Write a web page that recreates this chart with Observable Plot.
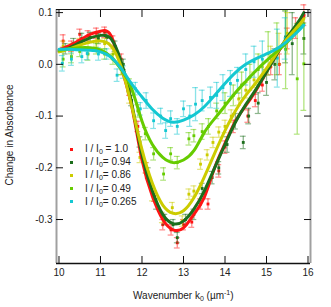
<!DOCTYPE html>
<html>
<head>
<meta charset="utf-8">
<script src="https://cdn.jsdelivr.net/npm/d3@7"></script>
<script src="https://cdn.jsdelivr.net/npm/@observablehq/plot@0.6"></script>
<style>
  html, body { margin: 0; padding: 0; background: #fff; }
  #wrap { position: relative; width: 331px; height: 307px; font-family: "Liberation Sans", Arial, sans-serif; color: #222; }
  #wrap svg { position: absolute; left: 0; top: 0; }
  .lab { position: absolute; font-size: 10px; white-space: nowrap; line-height: 1; }
  .leg { position: absolute; left: 70px; font-size: 10px; line-height: 1; }
  .leg .row { position: absolute; left: 0; white-space: nowrap; }
  .leg .sq { position: absolute; left: 0; top: 3.5px; width: 3px; height: 3px; }
  .leg .tx { position: absolute; left: 15px; top: 0; }
  sub { font-size: 7px; vertical-align: -2px; line-height: 0; }
  sup { font-size: 7px; vertical-align: 4px; line-height: 0; }
</style>
</head>
<body>
<div id="wrap"></div>
<script>
// ---- data ----
const seriesNames = ["1.0", "0.94", "0.86", "0.49", "0.265"];
const seriesColors = ["#ff1414", "#1c6e1c", "#cccc00", "#66cc00", "#14c8d2"];

const fitX = [10, 10.25, 10.5, 10.75, 11, 11.25, 11.5, 11.75, 12, 12.25, 12.5, 12.75, 13, 13.25, 13.5, 13.75, 14, 14.25, 14.5, 14.75, 15, 15.25, 15.5, 15.75, 15.9];
const fitRed    = [0.028,0.036,0.047,0.058,0.064,0.056,-0.005,-0.08,-0.185,-0.255,-0.30,-0.32,-0.316,-0.29,-0.257,-0.2,-0.153,-0.11,-0.08,-0.05,-0.015,0.02,0.05,0.075,0.095];
const fitGreen  = [0.025,0.032,0.042,0.051,0.056,0.05,0.005,-0.075,-0.175,-0.245,-0.29,-0.308,-0.303,-0.28,-0.245,-0.2,-0.155,-0.112,-0.078,-0.048,-0.015,0.02,0.052,0.08,0.1];
const fitYellow = [0.024,0.03,0.037,0.043,0.045,0.036,-0.005,-0.08,-0.165,-0.23,-0.272,-0.288,-0.283,-0.258,-0.218,-0.172,-0.128,-0.09,-0.06,-0.035,-0.008,0.022,0.05,0.073,0.088];
const fitLime   = [0.027,0.03,0.032,0.032,0.028,0.015,-0.01,-0.047,-0.11,-0.155,-0.18,-0.19,-0.185,-0.167,-0.132,-0.105,-0.08,-0.055,-0.033,-0.012,0.007,0.025,0.043,0.065,0.078];
const fitCyan   = [0.029,0.029,0.028,0.027,0.024,0.014,-0.008,-0.038,-0.063,-0.087,-0.104,-0.112,-0.108,-0.098,-0.082,-0.06,-0.037,-0.016,0.0,0.011,0.02,0.03,0.045,0.063,0.076];

// measured points: [wavenumber, change, error]
const ptsRed = [[10.1,0.045,0.012],[10.3,0.035,0.01],[10.5,0.058,0.01],[10.7,0.055,0.01],[10.9,0.06,0.01],[11.1,0.062,0.01],[11.3,0.045,0.01],[11.5,0.01,0.01],[11.7,-0.05,0.01],[11.9,-0.12,0.01],[12.1,-0.2,0.01],[12.3,-0.255,0.01],[12.5,-0.31,0.01],[12.7,-0.32,0.01],[12.85,-0.345,0.01],[13.0,-0.31,0.01],[13.2,-0.305,0.01],[13.41,-0.27,0.01],[13.59,-0.27,0.01],[13.85,-0.206,0.012],[14.0,-0.16,0.012],[14.2,-0.12,0.012],[14.55,-0.1,0.012],[14.73,-0.07,0.012],[14.9,-0.04,0.012],[15.1,-0.005,0.015],[15.31,0.0,0.02],[15.5,0.05,0.02],[15.7,0.07,0.02],[15.9,0.095,0.02]];
const ptsGreen = [[10.15,0.03,0.01],[10.35,0.04,0.01],[10.55,0.05,0.01],[10.75,0.052,0.01],[10.95,0.05,0.01],[11.15,0.052,0.01],[11.35,0.035,0.01],[11.55,0.0,0.01],[11.75,-0.07,0.01],[11.95,-0.15,0.01],[12.15,-0.21,0.01],[12.35,-0.27,0.01],[12.55,-0.3,0.01],[12.75,-0.31,0.01],[12.85,-0.335,0.01],[13.05,-0.3,0.01],[13.25,-0.29,0.01],[13.45,-0.24,0.01],[13.69,-0.219,0.012],[13.85,-0.2,0.012],[14.05,-0.155,0.015],[14.25,-0.11,0.015],[14.44,-0.151,0.012],[14.57,-0.1,0.015],[14.8,-0.075,0.02],[15.0,-0.035,0.025],[15.2,0.0,0.03],[15.46,0.053,0.05],[15.62,0.04,0.06],[15.9,0.05,0.03]];
const ptsYellow = [[10.1,0.035,0.01],[10.3,0.03,0.01],[10.5,0.04,0.01],[10.7,0.042,0.01],[10.9,0.045,0.01],[11.1,0.04,0.01],[11.3,0.02,0.01],[11.5,-0.01,0.01],[11.7,-0.065,0.01],[11.95,-0.18,0.01],[12.1,-0.2,0.01],[12.25,-0.254,0.01],[12.49,-0.296,0.01],[12.73,-0.277,0.01],[12.97,-0.303,0.01],[13.13,-0.251,0.01],[13.25,-0.245,0.01],[13.41,-0.193,0.01],[13.57,-0.175,0.01],[13.71,-0.151,0.01],[13.85,-0.131,0.01],[14.0,-0.12,0.012],[14.15,-0.1,0.012],[14.33,-0.067,0.012],[14.5,-0.05,0.015],[14.7,-0.03,0.015],[14.9,-0.005,0.02],[15.1,0.015,0.02],[15.3,0.03,0.03],[15.5,0.06,0.04]];
const ptsLime = [[10.1,0.01,0.015],[10.3,0.015,0.012],[10.5,0.025,0.01],[10.7,0.02,0.012],[10.9,0.03,0.01],[11.1,0.02,0.01],[11.3,0.01,0.01],[11.5,-0.01,0.01],[11.7,-0.04,0.012],[11.9,-0.09,0.012],[12.08,-0.134,0.012],[12.28,-0.173,0.012],[12.52,-0.212,0.012],[12.69,-0.173,0.012],[12.85,-0.19,0.012],[13.13,-0.144,0.012],[13.25,-0.138,0.012],[13.45,-0.13,0.015],[13.6,-0.12,0.015],[13.8,-0.09,0.015],[14.0,-0.075,0.02],[14.2,-0.06,0.02],[14.4,-0.04,0.025],[14.6,-0.025,0.025],[14.8,-0.01,0.03],[15.04,0.021,0.042],[15.25,0.03,0.05],[15.46,0.029,0.076],[15.74,-0.028,0.107],[15.9,0.001,0.09]];
const ptsCyan = [[10.08,0.002,0.015],[10.3,0.01,0.012],[10.55,0.015,0.012],[10.68,0.021,0.012],[10.95,0.02,0.012],[11.15,0.02,0.01],[11.4,-0.021,0.012],[11.55,-0.015,0.012],[11.84,-0.047,0.012],[11.96,-0.086,0.012],[12.1,-0.07,0.015],[12.28,-0.109,0.015],[12.45,-0.1,0.015],[12.57,-0.128,0.015],[12.69,-0.105,0.015],[12.85,-0.12,0.015],[13.0,-0.086,0.015],[13.15,-0.1,0.02],[13.29,-0.077,0.032],[13.45,-0.07,0.02],[13.65,-0.064,0.02],[13.8,-0.06,0.025],[13.95,-0.045,0.025],[14.13,-0.037,0.025],[14.3,-0.031,0.025],[14.5,-0.01,0.03],[14.7,0.005,0.03],[14.9,0.01,0.035],[15.26,0.012,0.056],[15.45,0.05,0.04]];

const xTicks = [10, 11, 12, 13, 14, 15, 16];
const yTicks = [0.1, 0.0, -0.1, -0.2, -0.3];
const yTickLabels = ["0.1", "0.0", "-0.1", "-0.2", "-0.3"];

// ---- build tables ----
const fits = [fitRed, fitGreen, fitYellow, fitLime, fitCyan];
const pts = [ptsRed, ptsGreen, ptsYellow, ptsLime, ptsCyan];
const fitRows = [];
fits.forEach((arr, s) => arr.forEach((v, i) => fitRows.push({s, x: fitX[i], y: v})));
const ptRows = [];
pts.forEach((arr, s) => arr.forEach(([x, y, e]) => ptRows.push({s, x, y, e})));

const capHalf = 0.07;
const marks = [];
for (let s = 0; s < 5; s++) {
  const data = ptRows.filter(d => d.s === s);
  const c = seriesColors[s];
  marks.push(Plot.ruleX(data, {x: "x", y1: d => d.y - d.e, y2: d => d.y + d.e, stroke: c, strokeOpacity: 0.5, strokeWidth: 1.3}));
  marks.push(Plot.ruleY(data, {y: d => d.y + d.e, x1: d => d.x - capHalf, x2: d => d.x + capHalf, stroke: c, strokeOpacity: 0.5, strokeWidth: 1.2}));
  marks.push(Plot.ruleY(data, {y: d => d.y - d.e, x1: d => d.x - capHalf, x2: d => d.x + capHalf, stroke: c, strokeOpacity: 0.5, strokeWidth: 1.2}));
  marks.push(Plot.dot(data, {x: "x", y: "y", symbol: "square", r: 1.6, fill: c, stroke: "none"}));
}
for (let s = 0; s < 5; s++) {
  marks.push(Plot.line(fitRows.filter(d => d.s === s), {x: "x", y: "y", stroke: seriesColors[s], strokeWidth: 3, curve: "natural"}));
}

const chart = Plot.plot({
  width: 331,
  height: 307,
  marginLeft: 56,
  marginRight: 21,
  marginTop: 9,
  marginBottom: 44,
  style: {fontFamily: '"Liberation Sans", Arial, sans-serif', fontSize: "10px", background: "white", color: "#222"},
  x: {domain: [9.94, 16.06]},
  y: {domain: [-0.385, 0.106]},
  marks: [
    ...marks,
    // frame
    Plot.ruleX([9.94], {stroke: "#a0a0a0", strokeWidth: 2}),
    Plot.ruleX([16.06], {stroke: "#a0a0a0", strokeWidth: 2}),
    Plot.ruleY([0.106], {stroke: "#111", strokeWidth: 1.2}),
    Plot.ruleY([-0.385], {stroke: "#111", strokeWidth: 1.5}),
    // ticks (inside)
    Plot.axisX({anchor: "bottom", ticks: xTicks, tickSize: -7, text: null, label: null, stroke: "#111"}),
    Plot.axisX({anchor: "top", ticks: xTicks, tickSize: -7, text: null, label: null, stroke: "#111"}),
    Plot.axisY({anchor: "left", ticks: yTicks, tickSize: -7, text: null, label: null, stroke: "#111"}),
    Plot.axisY({anchor: "right", ticks: yTicks, tickSize: -7, text: null, label: null, stroke: "#111"}),
    // tick labels
    Plot.axisX({anchor: "bottom", ticks: xTicks, tickSize: 0, tickPadding: 5, label: null, tickFormat: d => String(d), fill: "#222", fontSize: 10}),
    Plot.axisY({anchor: "left", ticks: yTicks, tickSize: 0, tickPadding: 4, label: null, tickFormat: (d, i) => yTickLabels[i], fill: "#222", fontSize: 10})
  ]
});

const wrap = document.getElementById("wrap");
wrap.appendChild(chart);

// axis titles
const xl = document.createElement("div");
xl.className = "lab";
xl.innerHTML = 'Wavenumber k<sub>0</sub> (\u00b5m<sup>-1</sup>)';
xl.style.left = "133px"; xl.style.top = "291px";
wrap.appendChild(xl);

const yl = document.createElement("div");
yl.className = "lab";
yl.textContent = "Change in Absorbance";
yl.style.left = "10px"; yl.style.top = "135px";
yl.style.transform = "translate(-50%, -50%) rotate(-90deg)";
wrap.appendChild(yl);

// legend
const leg = document.createElement("div");
leg.className = "leg";
leg.style.top = "144px";
seriesNames.forEach((n, i) => {
  const row = document.createElement("div");
  row.className = "row";
  row.style.top = (i * 13.2) + "px";
  const eq = i === 0 ? " = " : "= ";
  row.innerHTML = `<span class="sq" style="background:${seriesColors[i]}"></span><span class="tx">I / I<sub>0</sub>${eq}${n}</span>`;
  leg.appendChild(row);
});
wrap.appendChild(leg);
</script>
</body>
</html>
